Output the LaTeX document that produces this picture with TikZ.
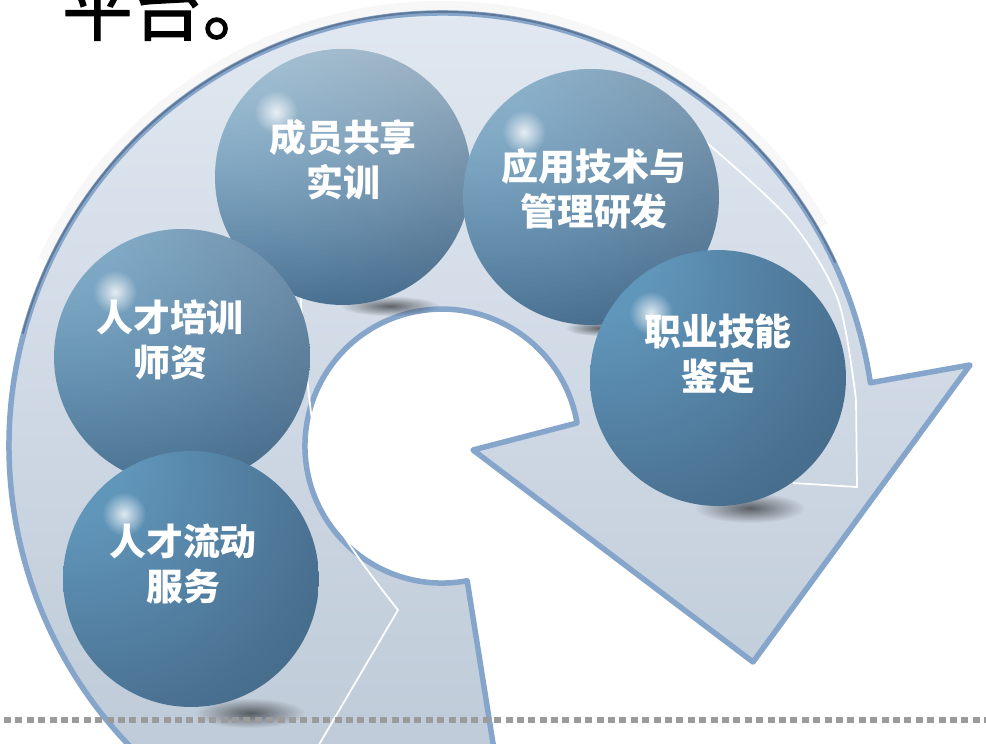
\documentclass[tikz,border=0pt]{standalone}
\usepackage{fontspec}
\newfontfamily\cjk{Noto Sans CJK SC}
\newfontfamily\cjktitle{Noto Sans CJK SC}[FakeBold=1.6]
\usepackage{tikz}
\usetikzlibrary{
    calc,
    fadings,
    positioning
}
\definecolor{ringfill}{HTML}{E3EAF3}
\definecolor{ringshade}{HTML}{BDC9D7}
\definecolor{ringedge}{HTML}{86A5CB}
\definecolor{ringdark}{HTML}{5F7898}
\definecolor{balltop}{HTML}{6096BA}
\definecolor{ballmid}{HTML}{4A7192}
\definecolor{balllow}{HTML}{3C5A74}
\definecolor{balldeep}{HTML}{33495C}
\definecolor{glassgray}{HTML}{D3DCE3}
\definecolor{dotgray}{HTML}{9B9B9B}
\pgfdeclareradialshading{sphere}{\pgfpoint{-28bp}{26bp}}{color(0bp)=(balltop); color(12bp)=(balltop); color(42bp)=(ballmid); color(70bp)=(balllow); color(90bp)=(balldeep); color(110bp)=(balldeep)}
\tikzfading[name=softspot, inner color=transparent!0, outer color=transparent!100]
\tikzfading[name=fadedown, top color=transparent!0, bottom color=transparent!100]

\begin{document}
\begin{tikzpicture}[x=0.02cm, y=-0.02cm,
        ball/.style={circle, minimum size=5.12cm, inner sep=0pt, shading=sphere},
        balltext/.style={text=white, align=center, inner sep=0pt, font=\cjk\bfseries\fontsize{21}{25.6}\selectfont},
        glint/.style={white, line width=0.035cm},
        spot/.style={white, opacity=.8, path fading=softspot},
        shadow/.style={black, opacity=.55, path fading=softspot},
        sheen/.style={glassgray, path fading=fadedown}]
    \useasboundingbox (0,0) rectangle (986,743);
    \clip (0,0) rectangle (986,743);
    \fill[white] (0,0) rectangle (986,743);
    \node[anchor=base west, inner sep=0pt, font=\cjktitle\fontsize{40}{40}\selectfont] (title) at (62,35) {平台。};
    \coordinate (o) at (442,446);
    \draw[line width=0.2cm, gray, opacity=.06] ($(o)+(205:440)$) arc[start angle=205, end angle=330, radius=440];
    \draw[ringedge, line width=0.11cm, line join=round, top color=ringfill, bottom color=ringshade]
        ($(o)+(125:433)$) arc[start angle=125, end angle=351.6, radius=433]
        -- (970,365) -- (753,662) -- (473,450) -- (577,423)
        arc[start angle=350.3, end angle=79.4, radius=137]
        -- (502,800) -- cycle;
    \draw[ringdark, line width=0.04cm] ($(o)+(195:434)$) arc[start angle=195, end angle=335, radius=434];
    \draw[glint] plot[smooth] coordinates {(707,143) (790,220) (838,300) (856,400)} -- (857,487) -- (793,483);
    \draw[glint] plot[smooth] coordinates {(300,290) (312,420) (335,520) (398,610)} -- (310,760);
    \fill[shadow] (390,306) ellipse (50 and 10);
    \fill[shadow] (600,328) ellipse (35 and 8);
    \fill[shadow] (750,508) ellipse (55 and 15);
    \fill[shadow] (250,713) ellipse (55 and 15);
    \node[ball] (share) at (343,177) {};
    \fill[sheen, opacity=.6] (share.center) circle (128);
    \node[ball] (research) at (591,197) {};
    \fill[sheen, opacity=.4] (research.center) circle (128);
    \node[ball] (skill) at (718,378) {};
    \node[ball] (teach) at (182,357) {};
    \fill[sheen, opacity=.3] (teach.center) circle (128);
    \node[ball] (flow) at (191,579) {};
    \foreach \s in {share, research, skill, teach, flow}
        \fill[spot] ($(\s)+(-67,-65)$) circle (22);
    \node[balltext] (sharetext) at ($(share)+(0,-17)$) {成员共享\\实训};
    \node[balltext] (researchtext) at ($(research)+(3,-8)$) {应用技术与\\管理研发};
    \node[balltext] (skilltext) at ($(skill)+(0,-24)$) {职业技能\\鉴定};
    \node[balltext] (teachtext) at ($(teach)+(-12,-17)$) {人才培训\\师资};
    \node[balltext] (flowtext) at ($(flow)+(-8,-15)$) {人才流动\\服务};
    \draw[dotgray, line width=0.12cm, dash pattern=on 0.14cm off 0.088cm, dash phase=0.148cm] (0,720) -- (986,720);
\end{tikzpicture}
\end{document}
